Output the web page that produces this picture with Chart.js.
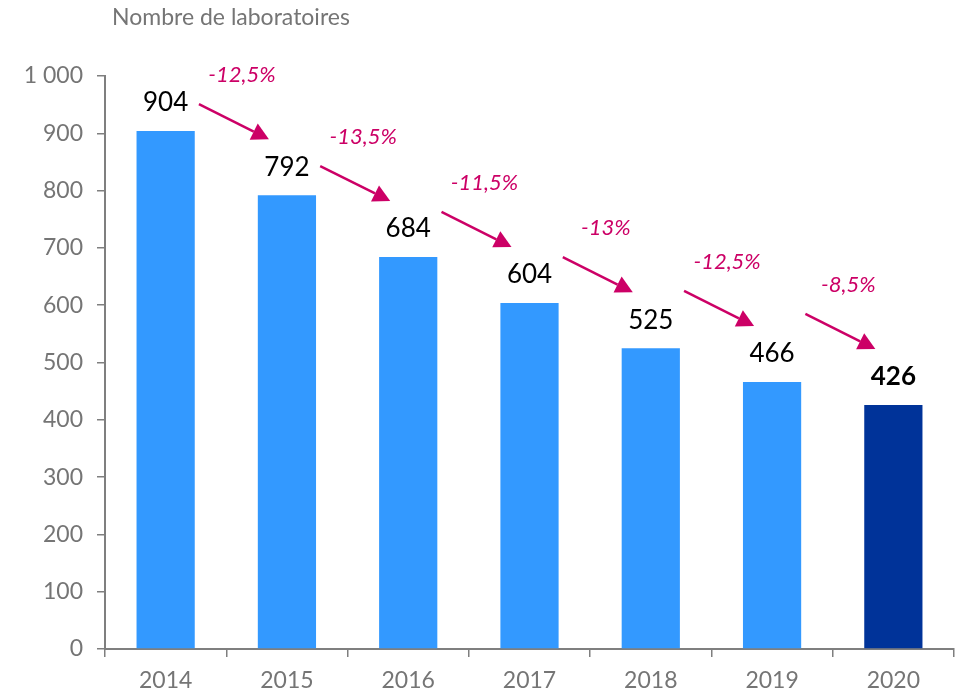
<!DOCTYPE html>
<html><head><meta charset="utf-8">
<script src="https://cdn.jsdelivr.net/npm/chart.js@4.4.1/dist/chart.umd.min.js"></script>
<style>html,body{margin:0;padding:0;background:#fff}#wrap{position:relative;width:957px;height:694px}</style>
</head><body><div id="wrap"><canvas id="c" width="957" height="694"></canvas></div>
<script>
const years = ['2014','2015','2016','2017','2018','2019','2020'];
const labs = [904, 792, 684, 604, 525, 466, 426];
const changes = ['-12,5%','-13,5%','-11,5%','-13%','-12,5%','-8,5%'];
const yTicks = [0,100,200,300,400,500,600,700,800,900,1000];
const FONT = 'Lato, "Open Sans", sans-serif';
const GRAY = '#757575';

const annot = {
  id: 'annot',
  afterDatasetsDraw(chart) {
    const ctx = chart.ctx;
    const meta = chart.getDatasetMeta(0);
    const ys = chart.scales.y;
    ctx.save();
    ctx.textAlign = 'center';
    ctx.textBaseline = 'middle';
    meta.data.forEach((bar, i) => {
      const last = i === labs.length - 1;
      ctx.font = (last ? 'bold ' : '') + '26px ' + FONT;
      ctx.fillStyle = '#000';
      ctx.fillText(String(labs[i]), bar.x, ys.getPixelForValue(labs[i]) - 28);
    });
    const col = '#CC0066';
    for (let i = 0; i < changes.length; i++) {
      const b2 = meta.data[i + 1];
      const ex = b2.x - 18, ey = ys.getPixelForValue(labs[i + 1]) - 56;
      const sx = ex - 70, sy = ey - 35;
      const ang = Math.atan2(ey - sy, ex - sx);
      const hl = 17, hw = 9;
      const bx = ex - hl * Math.cos(ang), by = ey - hl * Math.sin(ang);
      ctx.strokeStyle = col; ctx.lineWidth = 2.5;
      ctx.beginPath(); ctx.moveTo(sx, sy); ctx.lineTo(bx, by); ctx.stroke();
      ctx.fillStyle = col;
      ctx.beginPath();
      ctx.moveTo(ex, ey);
      ctx.lineTo(bx + hw * Math.sin(ang), by - hw * Math.cos(ang));
      ctx.lineTo(bx - hw * Math.sin(ang), by + hw * Math.cos(ang));
      ctx.closePath(); ctx.fill();
      ctx.font = 'italic 22px ' + FONT;
      ctx.fillText(changes[i], ex - 27, ey - 64);
    }
    ctx.font = '23px ' + FONT;
    ctx.fillStyle = GRAY;
    ctx.textAlign = 'left';
    ctx.fillText('Nombre de laboratoires', 112, 18);
    ctx.restore();
  }
};

new Chart(document.getElementById('c'), {
  type: 'bar',
  data: {
    labels: years,
    datasets: [{
      data: labs,
      backgroundColor: labs.map((v, i) => i === labs.length - 1 ? '#003399' : '#3399FF'),
      barPercentage: 0.48,
      categoryPercentage: 1.0
    }]
  },
  options: {
    responsive: false,
    animation: false,
    events: [],
    layout: { padding: { top: 76, right: 3, left: 0, bottom: 0 } },
    plugins: { legend: { display: false }, tooltip: { enabled: false } },
    scales: {
      x: {
        grid: { drawOnChartArea: false, drawTicks: true, tickLength: 8, color: '#7f7f7f', lineWidth: 1.5 },
        border: { color: '#7f7f7f', width: 2 },
        ticks: { color: GRAY, font: { family: FONT, size: 23 }, padding: 10 },
        afterFit(s) { s.height = 45; }
      },
      y: {
        min: 0, max: 1000,
        afterBuildTicks(s) { s.ticks = yTicks.map(v => ({ value: v })); },
        grid: { drawOnChartArea: false, drawTicks: true, tickLength: 8, color: '#7f7f7f', lineWidth: 1.5 },
        border: { color: '#7f7f7f', width: 2 },
        ticks: {
          color: GRAY, font: { family: FONT, size: 23 }, padding: 14,
          callback: v => String(v).replace(/\B(?=(\d{3})+(?!\d))/g, ' ')
        },
        afterFit(s) { s.width = 105; }
      }
    }
  },
  plugins: [annot]
});
</script></body></html>
